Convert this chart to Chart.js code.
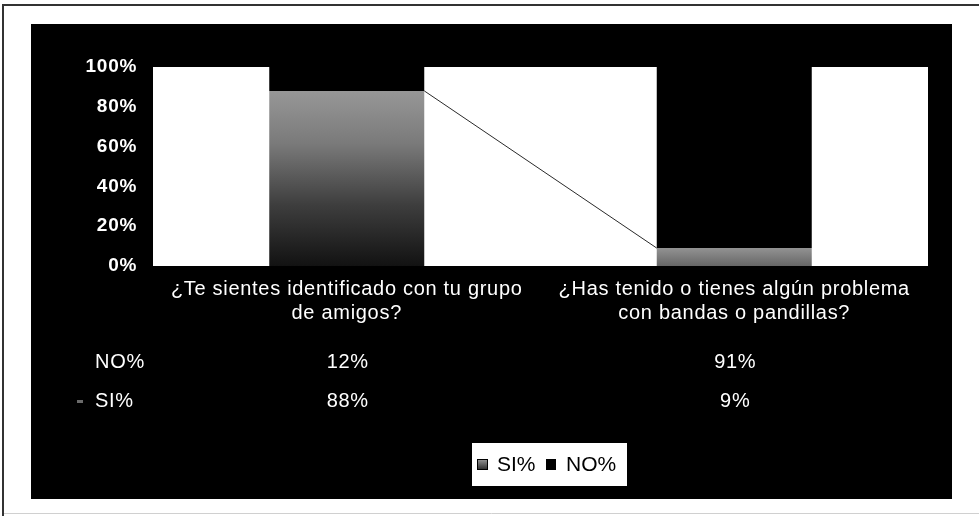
<!DOCTYPE html>
<html>
<head>
<meta charset="utf-8">
<script src="https://cdn.jsdelivr.net/npm/chart.js@4.4.1/dist/chart.umd.min.js"></script>
<style>
  html, body { margin: 0; padding: 0; background: #ffffff; }
  #wrap { width: 979px; height: 516px; position: relative; }
</style>
</head>
<body>
<div id="wrap"><canvas id="c" width="979" height="516"></canvas></div>
<script>
// ---- data ----
const categories = [
  ["¿Te sientes identificado con tu grupo", "de amigos?"],
  ["¿Has tenido o tienes algún problema", "con bandas o pandillas?"]
];
const siValues = [88, 9];
const noValues = [12, 91];
const siLabel = "SI%";
const noLabel = "NO%";
const yTicks = [0, 20, 40, 60, 80, 100];

const FONT = "'Liberation Sans', Arial, sans-serif";

function siFill(ctx) {
  const chart = ctx.chart;
  const area = chart.chartArea;
  if (!area || ctx.dataIndex === undefined) return '#6a6a6a';
  const y = chart.scales.y;
  const v = siValues[ctx.dataIndex];
  const top = y.getPixelForValue(v);
  const bottom = y.getPixelForValue(0);
  const g = chart.ctx.createLinearGradient(0, top, 0, bottom);
  if (v > 50) {
    g.addColorStop(0, '#979797');
    g.addColorStop(0.3, '#7a7a7a');
    g.addColorStop(0.65, '#3e3e3e');
    g.addColorStop(1, '#121212');
  } else {
    g.addColorStop(0, '#929292');
    g.addColorStop(1, '#666666');
  }
  return g;
}

const framePlugin = {
  id: 'frame',
  beforeDraw(chart) {
    const c = chart.ctx;
    const a = chart.chartArea;
    c.save();
    c.fillStyle = '#ffffff';
    c.fillRect(0, 0, chart.width, chart.height);
    // outer page lines
    c.strokeStyle = '#333';
    c.lineWidth = 2;
    c.beginPath();
    c.moveTo(3, 516); c.lineTo(3, 5); c.lineTo(979, 5);
    c.stroke();
    c.strokeStyle = '#d0d0d0';
    c.lineWidth = 1;
    c.beginPath();
    c.moveTo(4, 513.5); c.lineTo(979, 513.5);
    c.stroke();
    // black chart background
    c.fillStyle = '#000000';
    c.fillRect(31, 24, 921, 475);
    // white plot area
    c.fillStyle = '#ffffff';
    c.fillRect(a.left, a.top, a.right - a.left, a.bottom - a.top);
    c.restore();
    c.letterSpacing = '0.7px';
  },
  afterDatasetsDraw(chart) {
    // series line joining tops of SI% bars
    const c = chart.ctx;
    const meta = chart.getDatasetMeta(0);
    c.save();
    c.strokeStyle = '#2a2a2a';
    c.lineWidth = 1;
    c.beginPath();
    for (let i = 0; i < meta.data.length - 1; i++) {
      const b1 = meta.data[i], b2 = meta.data[i + 1];
      c.moveTo(b1.x + b1.width / 2, b1.y);
      c.lineTo(b2.x - b2.width / 2, b2.y);
    }
    c.stroke();
    c.restore();
  },
  afterDraw(chart) {
    const c = chart.ctx;
    const x = chart.scales.x;
    c.save();
    c.letterSpacing = '0.7px';
    c.font = '20px ' + FONT;
    c.fillStyle = '#ffffff';
    c.textBaseline = 'middle';
    // data table rows
    const rows = [[noLabel, noValues, 362], [siLabel, siValues, 401]];
    rows.forEach(([lab, vals, yy]) => {
      c.textAlign = 'left';
      c.fillStyle = '#ffffff';
      c.fillText(lab, 95, yy);
      c.textAlign = 'center';
      vals.forEach((v, i) => c.fillText(v + '%', x.getPixelForValue(i) + 1, yy));
    });
    // tiny legend key in the data table for SI%
    c.fillStyle = '#6a6a6a';
    c.fillRect(77, 400, 6, 3);
    // legend box
    const bx = 472, by = 443, bw = 155, bh = 43;
    c.fillStyle = '#ffffff';
    c.fillRect(bx, by, bw, bh);
    const ly = 464;
    c.letterSpacing = '0px';
    c.font = '21px ' + FONT;
    c.textAlign = 'left';
    // SI key
    const gk = c.createLinearGradient(0, ly - 5, 0, ly + 5);
    gk.addColorStop(0, '#9a9a9a'); gk.addColorStop(1, '#333');
    c.fillStyle = gk;
    c.fillRect(477, ly - 5, 10, 11);
    c.strokeStyle = '#000'; c.lineWidth = 1;
    c.strokeRect(477.5, ly - 4.5, 10, 10);
    c.fillStyle = '#000';
    c.fillText(siLabel, 497, ly + 1);
    // NO key
    c.fillStyle = '#000';
    c.fillRect(546, ly - 5, 10, 11);
    c.fillText(noLabel, 566, ly + 1);
    c.restore();
  }
};

new Chart(document.getElementById('c'), {
  type: 'bar',
  data: {
    labels: categories,
    datasets: [
      { label: siLabel, data: siValues, backgroundColor: siFill, borderWidth: 0 },
      { label: noLabel, data: noValues, backgroundColor: '#000000', borderWidth: 0 }
    ]
  },
  plugins: [framePlugin],
  options: {
    responsive: false,
    animation: false,
    events: [],
    layout: { padding: { left: 0, right: 51, top: 67, bottom: 0 } },
    datasets: { bar: { categoryPercentage: 1.0, barPercentage: 0.4 } },
    plugins: { legend: { display: false }, tooltip: { enabled: false } },
    scales: {
      x: {
        stacked: true,
        grid: { display: false, drawTicks: false },
        border: { display: false },
        ticks: {
          color: '#ffffff',
          font: { family: FONT, size: 20, lineHeight: 1.2 },
          padding: 11,
          maxRotation: 0,
          autoSkip: false
        },
        afterFit(s) { s.height = 250; }
      },
      y: {
        stacked: true,
        min: 0, max: 100,
        afterBuildTicks(s) { s.ticks = yTicks.map(v => ({ value: v })); },
        grid: { display: false, drawTicks: false },
        border: { display: false },
        ticks: {
          color: '#ffffff',
          font: { family: FONT, size: 19, weight: 'bold' },
          padding: 16,
          callback: v => v + '%'
        },
        afterFit(s) { s.width = 153; }
      }
    }
  }
});
</script>
</body>
</html>
